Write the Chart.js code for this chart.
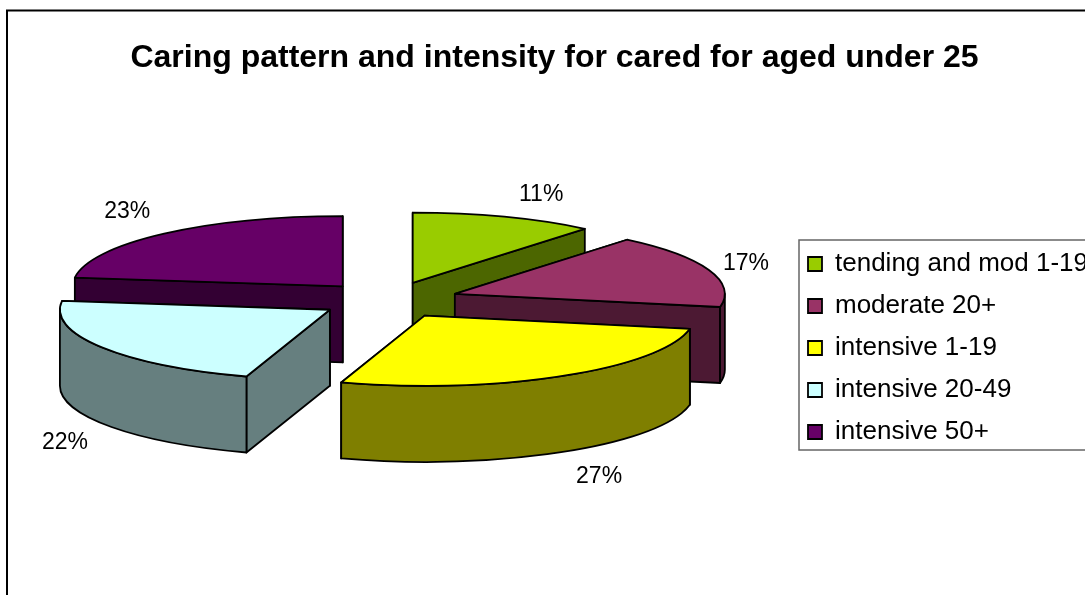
<!DOCTYPE html>
<html>
<head>
<meta charset="utf-8">
<title>Caring pattern</title>
<script src="https://cdn.jsdelivr.net/npm/chart.js@4"></script>
<style>
html, body { margin: 0; padding: 0; background: #fff; overflow: hidden; }
#box { position: relative; width: 1085px; height: 595px; }
</style>
</head>
<body>
<div id="box"><canvas id="grafico"></canvas></div>
<script>
const titulo = 'Caring pattern and intensity for cared for aged under 25';
const categorias = ['tending and mod 1-19', 'moderate 20+', 'intensive 1-19', 'intensive 20-49', 'intensive 50+'];
const valores = [11, 17, 27, 22, 23];
const cores = ['#99CC00', '#993366', '#FFFF00', '#CCFFFF', '#660066'];

// the 3D look: pie centre on the page, squash, wall height, explosion, back-to-front order
const centroX = 389, centroY = 300, raio = 270, achatar = 0.26, altura = 76, explodir = 70;
const ordem = [0, 4, 1, 3, 2];
const traco = 1.8;

function escurecer(hex) {
    const n = parseInt(hex.slice(1), 16);
    return `rgb(${(n >> 16) >> 1}, ${((n >> 8) & 255) >> 1}, ${(n & 255) >> 1})`;
}

function telaX(chart, x) { return x - (chart.chartArea.left + chart.chartArea.right) / 2 + centroX; }
function telaY(chart, y) { return centroY + (y - (chart.chartArea.top + chart.chartArea.bottom) / 2) * achatar; }

function fatia(chart, arc) {
    return { x: telaX(chart, arc.x), y: telaY(chart, arc.y), a0: arc.startAngle, a1: arc.endAngle };
}

function parede(ctx, f, a) {
    const px = f.x + raio * Math.cos(a), py = f.y + raio * Math.sin(a) * achatar;
    ctx.beginPath();
    ctx.moveTo(f.x, f.y);
    ctx.lineTo(px, py);
    ctx.lineTo(px, py + altura);
    ctx.lineTo(f.x, f.y + altura);
    ctx.closePath();
    ctx.fill();
    ctx.stroke();
}

function paredeCurva(ctx, f) {
    const a0 = Math.max(f.a0, 0), a1 = Math.min(f.a1, Math.PI);
    if (a1 <= a0) return;
    ctx.beginPath();
    ctx.ellipse(f.x, f.y, raio, raio * achatar, 0, a0, a1);
    ctx.ellipse(f.x, f.y + altura, raio, raio * achatar, 0, a1, a0, true);
    ctx.closePath();
    ctx.fill();
    ctx.stroke();
}

const pizza3d = {
    id: 'pizza3d',
    beforeDraw(chart) {
        const ctx = chart.ctx;
        ctx.save();
        ctx.strokeStyle = '#000';
        ctx.lineWidth = 2;
        ctx.strokeRect(7, 10.5, 1200, 800);
        ctx.strokeStyle = '#666';
        ctx.lineWidth = 1.5;
        ctx.strokeRect(799, 240, 400, 210);
        ctx.restore();
    },
    afterDatasetUpdate(chart) {
        chart.getDatasetMeta(0).data.forEach(arc => {
            const meio = (arc.startAngle + arc.endAngle) / 2;
            arc.x += Math.cos(meio) * explodir;
            arc.y += Math.sin(meio) * explodir;
        });
    },
    afterLayout(chart) {
        const t = chart.titleBlock, l = chart.legend;
        t.left = 24; t.right = 1085; t.top = 39;
        l.left = 792; l.right = 1200; l.width = 408;
        l.top = 235; l.bottom = 595; l.height = 360;
    },
    beforeDatasetsDraw(chart) {
        const ctx = chart.ctx, arcs = chart.getDatasetMeta(0).data;
        ctx.save();
        ctx.strokeStyle = '#000';
        ctx.lineWidth = traco;
        ctx.lineJoin = 'round';
        ordem.forEach(i => {
            const f = fatia(chart, arcs[i]);
            ctx.fillStyle = escurecer(cores[i]);
            [f.a0, f.a1].sort((a, b) => Math.sin(a) - Math.sin(b)).forEach(a => parede(ctx, f, a));
            paredeCurva(ctx, f);
        });
        ctx.restore();
        // the tops are drawn by the pie itself, squashed
        const cx = (chart.chartArea.left + chart.chartArea.right) / 2;
        const cy = (chart.chartArea.top + chart.chartArea.bottom) / 2;
        ctx.save();
        ctx.translate(centroX, centroY);
        ctx.scale(1, achatar);
        ctx.translate(-cx, -cy);
    },
    afterDatasetsDraw(chart) {
        const ctx = chart.ctx, arcs = chart.getDatasetMeta(0).data;
        ctx.restore();
        ctx.save();
        ctx.strokeStyle = '#000';
        ctx.lineWidth = traco;
        ctx.lineJoin = 'round';
        arcs.forEach((arc, i) => {
            const f = fatia(chart, arc);
            ctx.beginPath();
            ctx.moveTo(f.x, f.y);
            ctx.ellipse(f.x, f.y, raio, raio * achatar, 0, f.a0, f.a1);
            ctx.closePath();
            ctx.stroke();

            // percentage next to the slice
            const meio = (f.a0 + f.a1) / 2, sx = Math.cos(meio), sy = Math.sin(meio);
            const lx = f.x + raio * sx + (sx > 0 ? 37 : -37);
            const ly = f.y + raio * sy * achatar + (sy > 0.3 ? altura : 0) + sy * (sx > 0 ? 26 : 32) + 2;
            ctx.fillStyle = '#000';
            ctx.font = '23px "Liberation Sans"';
            ctx.textAlign = 'center';
            ctx.textBaseline = 'middle';
            ctx.fillText(valores[i] + '%', lx, ly);
        });
        ctx.restore();
    }
};

new Chart(document.getElementById('grafico').getContext('2d'), {
    type: 'pie',
    data: {
        labels: categorias,
        datasets: [{
            data: valores,
            backgroundColor: cores,
            borderWidth: 0,
            radius: raio
        }]
    },
    options: {
        responsive: true,
        maintainAspectRatio: false,
        animation: false,
        plugins: {
            title: {
                display: true,
                text: titulo,
                color: '#000',
                font: { family: '"Liberation Sans"', size: 32, weight: 'bold' },
                padding: 0
            },
            legend: {
                position: 'right',
                align: 'start',
                labels: {
                    color: '#000',
                    font: { family: '"Liberation Sans"', size: 26 },
                    boxWidth: 14,
                    boxHeight: 14,
                    padding: 16,
                    generateLabels(chart) {
                        return Chart.overrides.pie.plugins.legend.labels.generateLabels(chart).map(item => {
                            item.strokeStyle = '#000';
                            item.lineWidth = traco;
                            return item;
                        });
                    }
                }
            },
            tooltip: { enabled: false }
        }
    },
    plugins: [pizza3d]
});
</script>
</body>
</html>
